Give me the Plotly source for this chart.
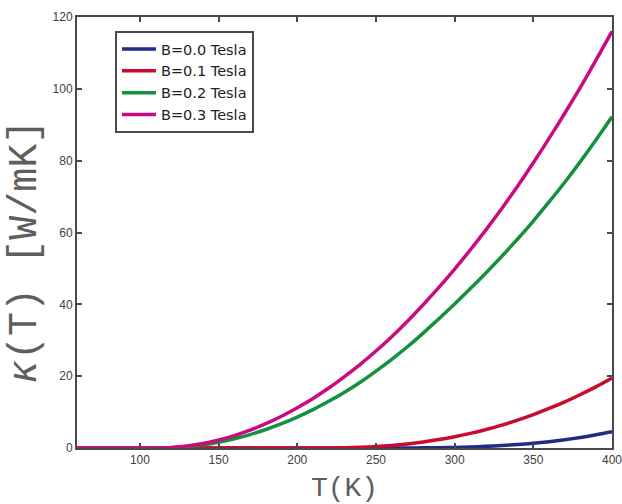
import plotly.graph_objects as go

# Temperature grid (K)
temperature = [60, 70, 80, 90, 100, 110, 120, 130, 140, 150, 160, 170, 180, 190, 200,
               210, 220, 230, 240, 250, 260, 270, 280, 290, 300, 310, 320, 330, 340,
               350, 360, 370, 380, 390, 400]

# Thermal conductivity kappa(T) in W/mK for each magnetic field
kappa_b00 = [0, 0, 0, 0, 0, 0, 0, 0, 0, 0, 0, 0, 0, 0, 0,
             0, 0, 0, 0, 0, 0.001, 0.01, 0.04, 0.09, 0.17, 0.29, 0.46, 0.68, 0.97,
             1.33, 1.77, 2.30, 2.93, 3.66, 4.5]
kappa_b01 = [0, 0, 0, 0, 0, 0, 0, 0, 0, 0, 0, 0, 0, 0, 0,
             0, 0.004, 0.05, 0.18, 0.39, 0.70, 1.13, 1.67, 2.34, 3.13, 4.07, 5.15, 6.38, 7.77,
             9.3, 11.0, 12.85, 14.9, 17.1, 19.5]
kappa_b02 = [0, 0, 0, 0, 0, 0, 0.07, 0.36, 0.87, 1.61, 2.56, 3.74, 5.15, 6.77, 8.62,
             10.7, 13.0, 15.5, 18.3, 21.4, 24.7, 28.2, 32.0, 36.0, 40.1, 44.4, 48.8, 53.4, 58.2,
             63.2, 68.5, 74.0, 79.8, 85.9, 92.2]
kappa_b03 = [0, 0, 0, 0, 0, 0, 0.14, 0.55, 1.24, 2.21, 3.45, 4.96, 6.76, 8.83, 11.2,
             13.8, 16.7, 19.9, 23.3, 27.0, 31.0, 35.3, 39.9, 44.7, 49.8, 55.2, 60.8, 66.7, 72.9,
             79.4, 86.2, 93.2, 100.5, 108.1, 116.0]

series_names = ["B=0.0 Tesla", "B=0.1 Tesla", "B=0.2 Tesla", "B=0.3 Tesla"]
series_values = [kappa_b00, kappa_b01, kappa_b02, kappa_b03]
series_colors = ["#1f2b86", "#cb0a2c", "#15903f", "#c90a80"]

x_ticks = [100, 150, 200, 250, 300, 350, 400]
y_ticks = [0, 20, 40, 60, 80, 100, 120]

mono = "Liberation Mono, Courier New, monospace"
title_color = "#5e5e5e"

fig = go.Figure()
for name, vals, color in zip(series_names, series_values, series_colors):
    fig.add_trace(go.Scatter(
        x=temperature, y=vals, name=name, mode="lines",
        line=dict(color=color, width=3.5, shape="spline", smoothing=0.6),
    ))

axis_common = dict(
    showline=True, linecolor="#4a4a4a", linewidth=2, mirror="ticks",
    ticks="inside", ticklen=5, tickwidth=2, tickcolor="#4a4a4a",
    showgrid=False, zeroline=False, automargin=False,
    ticklabeloverflow="allow",
    tickfont=dict(family="Liberation Sans, Arial, sans-serif", size=12, color="#404040"),
)

fig.update_xaxes(
    range=[60, 400], tickvals=x_ticks, ticktext=[str(t) for t in x_ticks],
    title=dict(text="T(K)", font=dict(family=mono, size=28, color=title_color), standoff=12),
    **axis_common,
)
fig.update_yaxes(
    range=[0, 120], tickvals=y_ticks, ticktext=[str(t) for t in y_ticks],
    **axis_common,
)

# y-axis label, placed slightly below the axis midpoint
fig.add_annotation(
    text="<i>κ</i>(T) [W/mK]", textangle=-90,
    xref="paper", yref="paper", x=-0.0953, y=0.455,
    xanchor="center", yanchor="middle", showarrow=False,
    font=dict(family=mono, size=40, color=title_color),
)

fig.update_layout(
    width=622, height=504,
    margin=dict(l=77, r=10, t=17, b=56, autoexpand=False),
    plot_bgcolor="white", paper_bgcolor="white",
    showlegend=True,
    legend=dict(
        x=0.071, y=0.9675, xanchor="left", yanchor="top",
        bgcolor="white", bordercolor="#4a4a4a", borderwidth=2,
        font=dict(family="DejaVu Sans, Verdana, sans-serif", size=14.5, color="#222222"),
        tracegroupgap=0, itemwidth=34,
    ),
)

fig.write_html("out.html")
